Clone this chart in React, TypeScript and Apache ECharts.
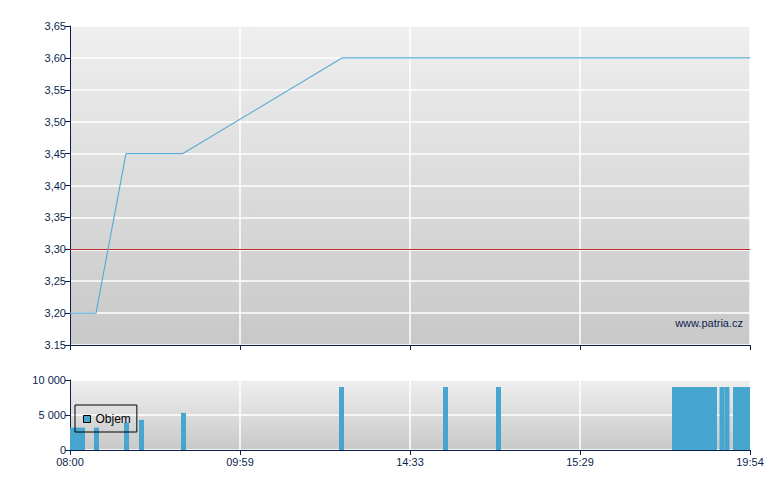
import React, { useEffect, useRef } from "react";
import * as echarts from "echarts";

// x positions are trade-slot indices on a compressed time axis (0..136)
const xTickLabels = ["08:00", "09:59", "14:33", "15:29", "19:54"];
const priceX = [0, 5.2, 11.2, 22.6, 54.4, 136];
const priceY = [3.2, 3.2, 3.45, 3.45, 3.6, 3.6];
const refPrice = 3.3;
const yTickLabels = ["3.15", "3,20", "3,25", "3,30", "3,35", "3,40", "3,45", "3,50", "3,55", "3,60", "3,65"];
const volX = [0.5, 1.5, 2.5, 5.3, 11.3, 14.3, 22.7, 54.3, 75.1, 85.7,
  120.9, 121.9, 122.9, 123.9, 124.9, 125.9, 126.9, 127.9, 128.9,
  130.4, 131.4, 133.1, 134.0, 134.9, 135.5];
const volY = [3200, 3200, 3200, 3200, 3900, 4300, 5300, 9000, 9000, 9000,
  9000, 9000, 9000, 9000, 9000, 9000, 9000, 9000, 9000,
  9000, 9000, 9000, 9000, 9000, 9000];
const volTickLabels = ["0", "5 000", "10 000"];

const NAVY = "#0b1f4f";
const FONT = "'Liberation Sans', Arial, sans-serif";

export default function App() {
  const ref = useRef<HTMLDivElement>(null);
  useEffect(() => {
    if (!ref.current) return;
    const chart = echarts.init(ref.current, null, { renderer: "svg" });
    const bg = () =>
      new echarts.graphic.LinearGradient(0, 0, 0, 1, [
        { offset: 0, color: "#efefef" },
        { offset: 1, color: "#c8c8c8" },
      ]);
    const xBase = (gridIndex: number, showLabel: boolean) => ({
      type: "value",
      gridIndex,
      min: 0,
      max: 136,
      interval: 34,
      axisLine: { show: true, onZero: false, lineStyle: { color: NAVY, width: 1 } },
      axisTick: { show: true, length: 5, lineStyle: { color: NAVY } },
      splitLine: { show: true, lineStyle: { color: "#ffffff", width: 1.5 } },
      axisLabel: {
        show: showLabel,
        color: NAVY,
        fontSize: 11,
        fontFamily: FONT,
        margin: 6,
        formatter: (v: number) => xTickLabels[Math.round(v / 34)] ?? "",
      },
    });
    chart.setOption({
      animation: false,
      backgroundColor: "#ffffff",
      grid: [
        { left: 70, top: 26, width: 680, height: 319, show: true, borderWidth: 0, backgroundColor: bg() },
        { left: 70, top: 380, width: 680, height: 70, show: true, borderWidth: 0, backgroundColor: bg() },
      ],
      xAxis: [xBase(0, false), xBase(1, true)],
      yAxis: [
        {
          type: "value",
          gridIndex: 0,
          min: 3.15,
          max: 3.65,
          interval: 0.05,
          axisLine: { show: true, lineStyle: { color: NAVY, width: 1 } },
          axisTick: { show: true, length: 5, lineStyle: { color: NAVY } },
          splitLine: { show: true, lineStyle: { color: "#ffffff", width: 1.5 } },
          axisLabel: {
            color: NAVY,
            fontSize: 11,
            fontFamily: FONT,
            margin: 4,
            formatter: (v: number) => yTickLabels[Math.round((v - 3.15) / 0.05)] ?? "",
          },
        },
        {
          type: "value",
          gridIndex: 1,
          min: 0,
          max: 10000,
          interval: 5000,
          axisLine: { show: true, lineStyle: { color: NAVY, width: 1 } },
          axisTick: { show: true, length: 5, lineStyle: { color: NAVY } },
          splitLine: { show: true, lineStyle: { color: "#ffffff", width: 1.5 } },
          axisLabel: {
            color: NAVY,
            fontSize: 11,
            fontFamily: FONT,
            margin: 4,
            formatter: (v: number) => volTickLabels[Math.round(v / 5000)] ?? "",
          },
        },
      ],
      legend: {
        show: true,
        data: ["Objem"],
        left: 75,
        top: 405,
        orient: "horizontal",
        borderColor: "#000",
        borderWidth: 1,
        borderRadius: 0,
        backgroundColor: "transparent",
        padding: [8, 6, 7, 8],
        itemWidth: 7,
        itemHeight: 7,
        itemGap: 5,
        icon: "rect",
        itemStyle: { borderColor: "#000", borderWidth: 1 },
        textStyle: { color: "#000", fontSize: 12, fontFamily: FONT },
      },
      graphic: [
        {
          type: "text",
          right: 37,
          top: 317,
          style: { text: "www.patria.cz", fill: NAVY, font: `11px ${FONT}` },
        },
      ],
      series: [
        {
          name: "Cena",
          type: "line",
          xAxisIndex: 0,
          yAxisIndex: 0,
          data: priceX.map((x, i) => [x, priceY[i]]),
          showSymbol: false,
          symbol: "none",
          lineStyle: { color: "#5aacd4", width: 1.2 },
          z: 3,
          markLine: {
            silent: true,
            symbol: "none",
            label: { show: false },
            lineStyle: { color: "#c03030", width: 1.2, type: "solid" },
            data: [{ yAxis: refPrice }],
            z: 2,
          },
        },
        {
          name: "Objem",
          type: "bar",
          xAxisIndex: 1,
          yAxisIndex: 1,
          barWidth: 5,
          data: volX.map((x, i) => [x, volY[i]]),
          itemStyle: { color: "#46a6cf" },
        },
      ],
    });
    return () => chart.dispose();
  }, []);
  return (
    <div
      ref={ref}
      style={{ position: "fixed", left: 0, top: 0, width: 780, height: 490 }}
    />
  );
}
